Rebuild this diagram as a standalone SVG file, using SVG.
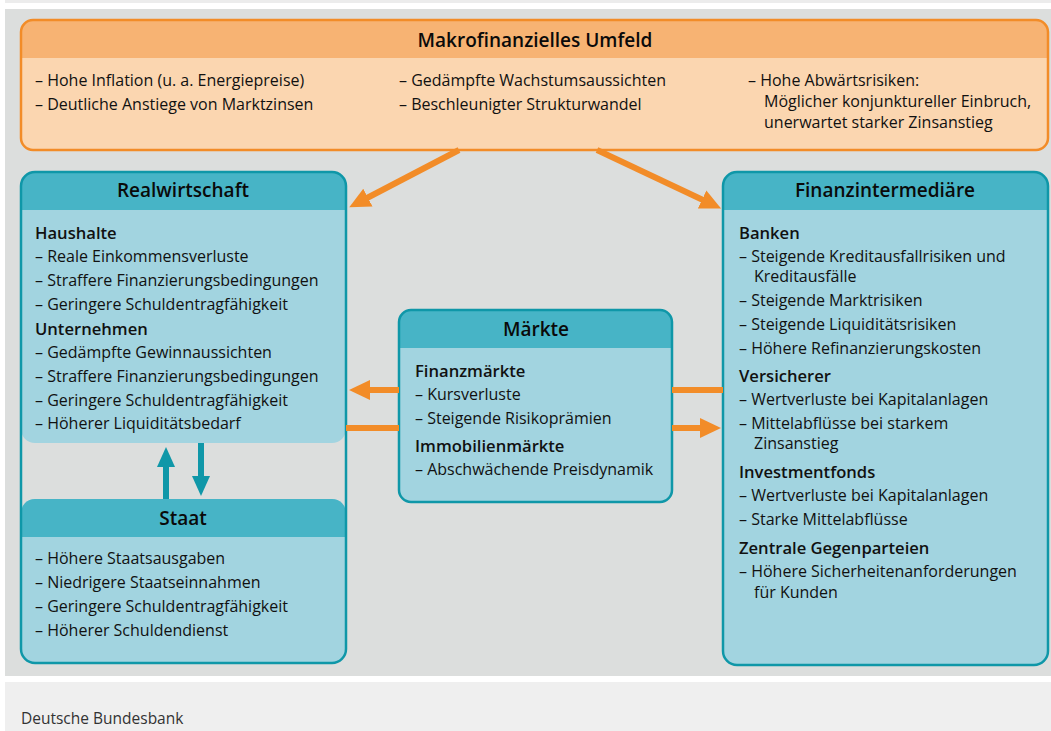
<svg xmlns="http://www.w3.org/2000/svg" width="1051" height="731" viewBox="0 0 1051 731">
<defs>
<style>
.t{font-family:"Open Sans","Liberation Sans",sans-serif;font-size:16px;fill:#111;dominant-baseline:central}
.b{font-weight:600;font-size:16.6px}
.h{font-family:"Open Sans","Liberation Sans",sans-serif;font-size:19px;font-weight:600;fill:#0a0a0a;text-anchor:middle;dominant-baseline:central}
.ob{fill:#fbd6b0}
.oh{fill:#f7b373}
.ol{fill:none;stroke:#f28c28;stroke-width:2.5}
.tb{fill:#a2d4e0}
.th{fill:#47b4c6}
.tl{fill:none;stroke:#0f97a8;stroke-width:2.5}
.oa{stroke:#f28c28;stroke-width:6;fill:none}
.ta{stroke:#0f97a8;stroke-width:6;fill:none}
</style>
<marker id="mo" markerUnits="userSpaceOnUse" markerWidth="24" markerHeight="24" viewBox="0 -12 24 24" refX="1" refY="0" orient="auto"><path d="M0,-10 L21,0 L0,10 Z" fill="#f28c28"/></marker>
<marker id="mt" markerUnits="userSpaceOnUse" markerWidth="24" markerHeight="24" viewBox="0 -12 24 24" refX="1" refY="0" orient="auto"><path d="M0,-9 L20,0 L0,9 Z" fill="#0f97a8"/></marker>
</defs>
<rect x="0" y="0" width="1051" height="731" fill="#ffffff"/>
<rect x="5" y="0" width="1046" height="3" fill="#ececec"/>
<rect x="5" y="9" width="1046" height="667" fill="#dcdedd"/>
<rect x="5" y="682" width="1046" height="49" fill="#efefef"/>
<text class="t" x="21" y="718" style="font-size:15.5px;fill:#333">Deutsche Bundesbank</text>

<g id="umfeld">
<rect class="ob" x="21" y="20" width="1027" height="130" rx="12"/>
<path class="oh" d="M21,58 V32 A12,12 0 0 1 33,20 H1036 A12,12 0 0 1 1048,32 V58 Z"/>
<rect class="ol" x="21" y="20" width="1027" height="130" rx="12"/>
<text class="h" x="535" y="40">Makrofinanzielles Umfeld</text>
<text class="t" x="35" y="80">– Hohe Inflation (u. a. Energiepreise)</text>
<text class="t" x="35" y="104">– Deutliche Anstiege von Marktzinsen</text>
<text class="t" x="399" y="80">– Gedämpfte Wachstumsaussichten</text>
<text class="t" x="399" y="104">– Beschleunigter Strukturwandel</text>
<text class="t" x="748" y="80">– Hohe Abwärtsrisiken:</text>
<text class="t" x="764" y="101">Möglicher konjunktureller Einbruch,</text>
<text class="t" x="764" y="122">unerwartet starker Zinsanstieg</text>
</g>

<g id="realwirtschaft">
<path class="tb" d="M21,186 A14,14 0 0 1 35,172 H332 A14,14 0 0 1 346,186 V429 A14,14 0 0 1 332,443 H35 A14,14 0 0 1 21,429 Z"/>
<path class="th" d="M21,210 V186 A14,14 0 0 1 35,172 H332 A14,14 0 0 1 346,186 V210 Z"/>
<text class="h" x="183" y="190">Realwirtschaft</text>
<text class="t b" x="35" y="232">Haushalte</text>
<text class="t" x="35" y="256">– Reale Einkommensverluste</text>
<text class="t" x="35" y="280">– Straffere Finanzierungsbedingungen</text>
<text class="t" x="35" y="304">– Geringere Schuldentragfähigkeit</text>
<text class="t b" x="35" y="328">Unternehmen</text>
<text class="t" x="35" y="352">– Gedämpfte Gewinnaussichten</text>
<text class="t" x="35" y="376">– Straffere Finanzierungsbedingungen</text>
<text class="t" x="35" y="400">– Geringere Schuldentragfähigkeit</text>
<text class="t" x="35" y="423">– Höherer Liquiditätsbedarf</text>
</g>

<g id="staat">
<path class="tb" d="M21,513 A14,14 0 0 1 35,499 H332 A14,14 0 0 1 346,513 V649 A14,14 0 0 1 332,663 H35 A14,14 0 0 1 21,649 Z"/>
<path class="th" d="M21,537 V513 A14,14 0 0 1 35,499 H332 A14,14 0 0 1 346,513 V537 Z"/>
<text class="h" x="183" y="518">Staat</text>
<text class="t" x="35" y="558">– Höhere Staatsausgaben</text>
<text class="t" x="35" y="582">– Niedrigere Staatseinnahmen</text>
<text class="t" x="35" y="606">– Geringere Schuldentragfähigkeit</text>
<text class="t" x="35" y="630">– Höherer Schuldendienst</text>
</g>
<rect class="tl" x="21" y="172" width="325" height="491" rx="14"/>

<g id="maerkte">
<rect class="tb" x="399" y="310" width="273" height="192" rx="12"/>
<path class="th" d="M399,348 V322 A12,12 0 0 1 411,310 H660 A12,12 0 0 1 672,322 V348 Z"/>
<rect class="tl" x="399" y="310" width="273" height="192" rx="12"/>
<text class="h" x="536" y="329">Märkte</text>
<text class="t b" x="415" y="370">Finanzmärkte</text>
<text class="t" x="415" y="394">– Kursverluste</text>
<text class="t" x="415" y="418">– Steigende Risikoprämien</text>
<text class="t b" x="415" y="445">Immobilienmärkte</text>
<text class="t" x="415" y="469">– Abschwächende Preisdynamik</text>
</g>

<g id="finanzintermediaere">
<rect class="tb" x="723" y="172" width="325" height="493" rx="14"/>
<path class="th" d="M723,210 V186 A14,14 0 0 1 737,172 H1034 A14,14 0 0 1 1048,186 V210 Z"/>
<rect class="tl" x="723" y="172" width="325" height="493" rx="14"/>
<text class="h" x="885" y="190">Finanzintermediäre</text>
<text class="t b" x="739" y="232">Banken</text>
<text class="t" x="739" y="256">– Steigende Kreditausfallrisiken und</text>
<text class="t" x="754" y="276">Kreditausfälle</text>
<text class="t" x="739" y="300">– Steigende Marktrisiken</text>
<text class="t" x="739" y="324">– Steigende Liquiditätsrisiken</text>
<text class="t" x="739" y="348">– Höhere Refinanzierungskosten</text>
<text class="t b" x="739" y="375">Versicherer</text>
<text class="t" x="739" y="399">– Wertverluste bei Kapitalanlagen</text>
<text class="t" x="739" y="423">– Mittelabflüsse bei starkem</text>
<text class="t" x="754" y="443">Zinsanstieg</text>
<text class="t b" x="739" y="471">Investmentfonds</text>
<text class="t" x="739" y="495">– Wertverluste bei Kapitalanlagen</text>
<text class="t" x="739" y="519">– Starke Mittelabflüsse</text>
<text class="t b" x="739" y="547">Zentrale Gegenparteien</text>
<text class="t" x="739" y="571">– Höhere Sicherheitenanforderungen</text>
<text class="t" x="754" y="592">für Kunden</text>
</g>

<g id="connectors">
<line class="oa" x1="459" y1="150" x2="367" y2="198" marker-end="url(#mo)"/>
<line class="oa" x1="597" y1="150" x2="703" y2="200" marker-end="url(#mo)"/>
<line class="oa" x1="399" y1="390" x2="369" y2="390" marker-end="url(#mo)"/>
<line class="oa" x1="346" y1="428" x2="399" y2="428"/>
<line class="oa" x1="672" y1="390" x2="723" y2="390"/>
<line class="oa" x1="672" y1="428" x2="701" y2="428" marker-end="url(#mo)"/>
<line class="ta" x1="166" y1="499" x2="166" y2="466" marker-end="url(#mt)"/>
<line class="ta" x1="201" y1="443" x2="201" y2="477" marker-end="url(#mt)"/>
</g>
</svg>
